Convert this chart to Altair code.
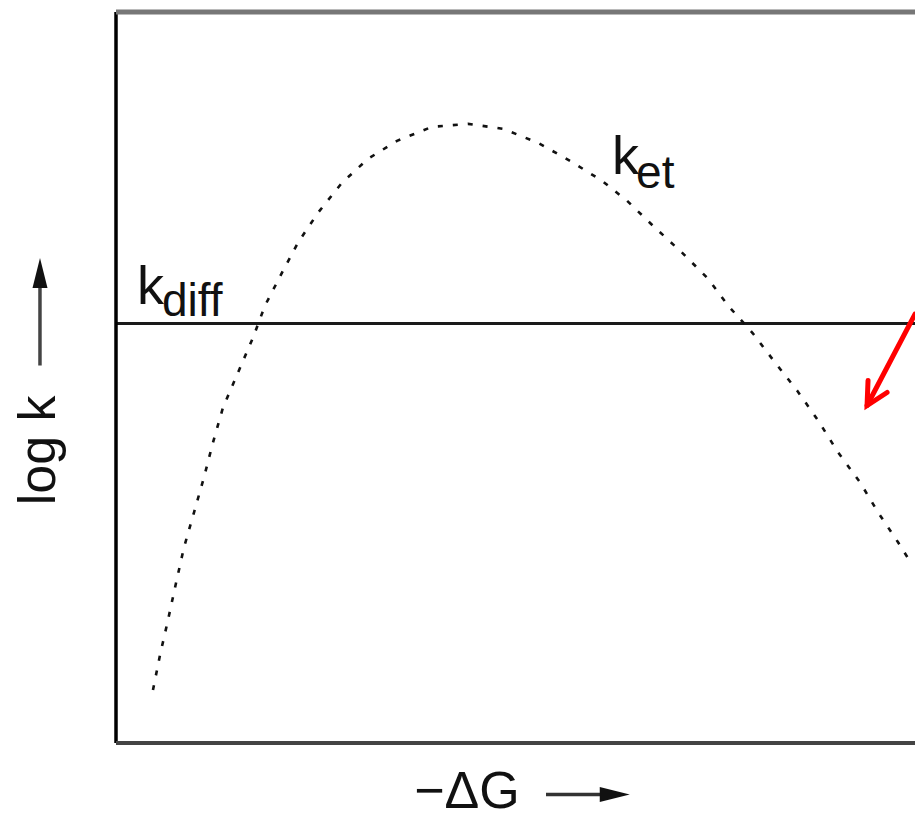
import altair as alt
import pandas as pd

# Dashed curve: -ΔG (arbitrary units) vs log k (arbitrary units)
curve_x = [4.58, 5.45, 6.44, 7.43, 8.43, 9.67, 10.90, 12.02, 13.26, 15.12, 16.98, 18.46,
           20.57, 22.55, 25.03, 28.00, 31.23, 34.82, 39.16, 43.62, 47.96, 52.29, 56.26,
           60.22, 63.32, 66.79, 70.14, 73.36, 75.84, 78.93, 81.66, 84.39, 86.99, 89.47,
           92.19, 94.42, 96.90, 98.14]
curve_y = [7.24, 12.02, 16.80, 21.86, 26.78, 31.56, 36.34, 41.12, 45.90, 50.68, 55.46, 59.84,
           64.34, 68.44, 72.54, 76.64, 79.92, 82.38, 84.29, 84.70, 84.02, 82.10, 79.64,
           76.91, 74.18, 70.49, 67.08, 63.52, 59.84, 56.01, 52.05, 48.22, 44.13, 39.75,
           35.66, 31.56, 27.46, 25.27]

kdiff_level = 57.38
X_MAX = 99.0

# Text annotations (data units)
label_main = ["k", "k"]
label_main_x = [61.46, 2.60]
label_main_y = [77.87, 60.11]
label_sub = ["et", "diff"]
label_sub_x = [64.44, 5.70]
label_sub_y = [75.96, 58.47]

ylabel_text = ["log k"]
ylabel_x = [-7.56]
ylabel_y = [40.03]
xlabel_text = ["\u2212\u0394G"]
xlabel_x = [43.49]
xlabel_y = [-8.85]

# Axis-label arrows
yarrow_x = [-9.42, -9.42]
yarrow_y = [51.64, 63.5]
yarrow_head_x = [-9.42]
yarrow_head_y = [64.3]
xarrow_x = [53.28, 60.5]
xarrow_y = [-7.05, -7.05]
xarrow_head_x = [61.8]
xarrow_head_y = [-7.05]

# Red arrow (shaft + open head)
red_shaft_x = [99.0, 93.06]
red_shaft_y = [58.68, 46.17]
red_head_x = [93.18, 93.06, 95.54]
red_head_y = [49.59, 46.17, 47.95]

FONT = "Liberation Sans"
xs = alt.Scale(domain=[0, X_MAX], nice=False, zero=False)
ys = alt.Scale(domain=[0, 100], nice=False, zero=False)
X = lambda f="x": alt.X(f, type="quantitative", scale=xs, axis=None)
Y = lambda f="y": alt.Y(f, type="quantitative", scale=ys, axis=None)

curve_df = pd.DataFrame({"x": curve_x, "y": curve_y, "o": list(range(len(curve_x)))})
curve = alt.Chart(curve_df).mark_line(
    color="#111", strokeWidth=2.6, strokeDash=[5, 10]
).encode(x=X(), y=Y(), order="o:Q")

# Box borders (left, top, bottom)
left_border = alt.Chart(pd.DataFrame({"x": [0], "y": [0], "y2": [100]})).mark_rule(
    color="#000", strokeWidth=3.5).encode(x=X(), y=Y(), y2="y2:Q")
top_border = alt.Chart(pd.DataFrame({"x": [0], "x2": [X_MAX], "y": [100]})).mark_rule(
    color="#777", strokeWidth=5).encode(x=X(), x2="x2:Q", y=Y())
bottom_border = alt.Chart(pd.DataFrame({"x": [0], "x2": [X_MAX], "y": [0]})).mark_rule(
    color="#444", strokeWidth=4).encode(x=X(), x2="x2:Q", y=Y())

kdiff_line = alt.Chart(pd.DataFrame({"x": [0], "x2": [X_MAX], "y": [kdiff_level]})).mark_rule(
    color="#1a1a1a", strokeWidth=3).encode(x=X(), x2="x2:Q", y=Y())

main_txt = alt.Chart(pd.DataFrame({"x": label_main_x, "y": label_main_y, "t": label_main})).mark_text(
    font=FONT, fontSize=54, align="left", baseline="alphabetic", color="#111"
).encode(x=X(), y=Y(), text="t:N")
sub_txt = alt.Chart(pd.DataFrame({"x": label_sub_x, "y": label_sub_y, "t": label_sub})).mark_text(
    font=FONT, fontSize=46, align="left", baseline="alphabetic", color="#111"
).encode(x=X(), y=Y(), text="t:N")

ylabel = alt.Chart(pd.DataFrame({"x": ylabel_x, "y": ylabel_y, "t": ylabel_text})).mark_text(
    font=FONT, fontSize=52, align="center", baseline="alphabetic", angle=270, color="#111"
).encode(x=X(), y=Y(), text="t:N")
xlabel = alt.Chart(pd.DataFrame({"x": xlabel_x, "y": xlabel_y, "t": xlabel_text})).mark_text(
    font=FONT, fontSize=52, align="center", baseline="alphabetic", color="#111"
).encode(x=X(), y=Y(), text="t:N")

yarrow = alt.Chart(pd.DataFrame({"x": yarrow_x, "y": yarrow_y, "o": [0, 1]})).mark_line(
    color="#444", strokeWidth=3.5).encode(x=X(), y=Y(), order="o:Q")
yhead = alt.Chart(pd.DataFrame({"x": yarrow_head_x, "y": yarrow_head_y})).mark_point(
    shape="M0,-1L-0.5,1L0.5,1Z", size=900, filled=True, color="#111", opacity=1
).encode(x=X(), y=Y())
xarrow = alt.Chart(pd.DataFrame({"x": xarrow_x, "y": xarrow_y, "o": [0, 1]})).mark_line(
    color="#333", strokeWidth=3.5).encode(x=X(), y=Y(), order="o:Q")
xhead = alt.Chart(pd.DataFrame({"x": xarrow_head_x, "y": xarrow_head_y})).mark_point(
    shape="M1,0L-1,-0.5L-1,0.5Z", size=900, filled=True, color="#111", opacity=1
).encode(x=X(), y=Y())

red_shaft = alt.Chart(pd.DataFrame({"x": red_shaft_x, "y": red_shaft_y, "o": [0, 1]})).mark_line(
    color="#ff0000", strokeWidth=5, strokeCap="round").encode(x=X(), y=Y(), order="o:Q")
red_head = alt.Chart(pd.DataFrame({"x": red_head_x, "y": red_head_y, "o": [0, 1, 2]})).mark_line(
    color="#ff0000", strokeWidth=5, strokeCap="round", strokeJoin="miter").encode(x=X(), y=Y(), order="o:Q")

chart = alt.layer(
    kdiff_line, curve, left_border, top_border, bottom_border,
    main_txt, sub_txt, ylabel, xlabel, yarrow, yhead, xarrow, xhead, red_shaft, red_head
).properties(
    width=799, height=731,
    autosize=alt.AutoSizeParams(type="none"),
    padding={"left": 108, "top": 4, "right": 0, "bottom": 77},
    background="white",
).configure_view(stroke=None)

chart.save("out.html", embed_options={"renderer": "svg", "actions": False})
